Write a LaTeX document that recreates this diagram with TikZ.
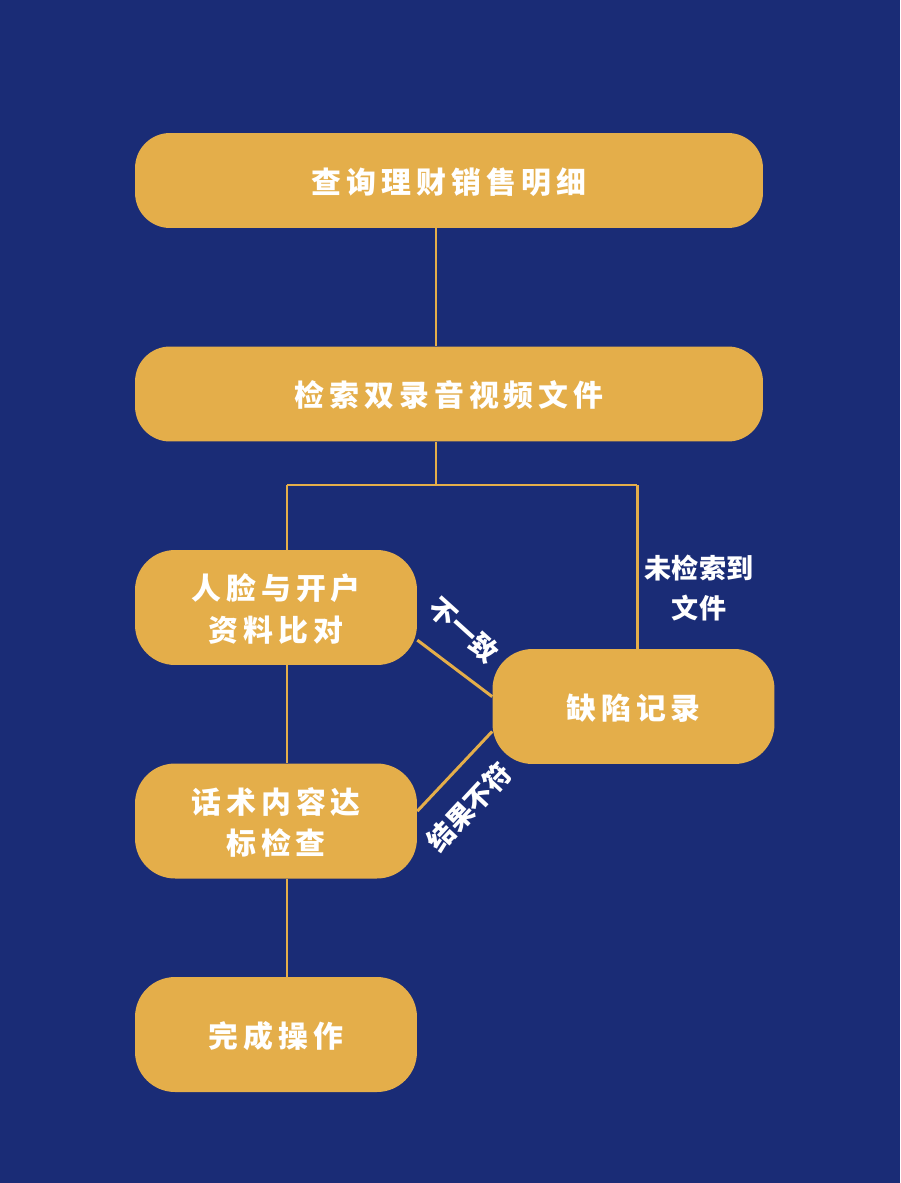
\documentclass[tikz,border=0pt]{standalone}
\usepackage{fontspec}
\newfontfamily\boxfont{Noto Sans CJK SC}[LetterSpace=17]
\newfontfamily\lblfont{Noto Sans CJK SC}
\definecolor{navy}{RGB}{26,44,118}
\definecolor{gold}{RGB}{228,174,74}

\begin{document}
\begin{tikzpicture}[
  x=0.02cm, y=-0.02cm,
  bx/.style={fill=gold, text=white, align=center, inner sep=0pt, text depth=0pt,
             font=\boxfont\bfseries\fontsize{17}{23.8}\selectfont},
  wide/.style={bx, rounded corners=0.7cm, minimum width=12.56cm, minimum height=1.9cm},
  half/.style={bx, rounded corners=0.8cm, minimum width=5.64cm, minimum height=2.3cm},
  ln/.style={draw=gold, line width=1.7pt},
  lbl/.style={text=white, align=center, inner sep=0pt,
              font=\lblfont\bfseries\fontsize{15.4}{23.2}\selectfont},
]
\fill[navy] (0,0) rectangle (900,1183);
\useasboundingbox (0,0) rectangle (900,1183);

\node[wide] (query)  at (449,180.5) {查询理财销售明细};
\node[wide] (search) at (449,394)   {检索双录音视频文件};
\node[half] (face)   at (276,607.5) {人脸与开户\\资料比对};
\node[half] (talk)   at (276,821)   {话术内容达\\标检查};
\node[half] (done)   at (276,1034.5) {完成操作};
\node[half] (defect) at (633.5,706.5) {缺陷记录};

\coordinate (sp)  at (436,485);
\coordinate (spl) at (287,485);
\coordinate (spr) at (637,485);

\draw[ln] (query.south -| sp) -- (search.north -| sp);
\draw[ln] (search.south -| sp) -- (sp);
\draw[ln] (spl) -- (spr);
\draw[ln] (spl) -- (face.north -| spl);
\draw[ln] (face.south -| spl) -- (talk.north -| spl);
\draw[ln] (talk.south -| spl) -- (done.north -| spl);
\draw[ln] (spr) -- (defect.north -| spr);
\draw[ln] (face.-13.5) -- (defect.176);
\draw[ln] (talk.4.5) -- (defect.190);

\node[lbl] (nofile) at (699,588) {未检索到\\文件};
\node[lbl, rotate=-42] (mismatch) at (464,630) {不一致};
\node[lbl, rotate=47] (wrong) at (469,807) {结果不符};
\end{tikzpicture}
\end{document}
